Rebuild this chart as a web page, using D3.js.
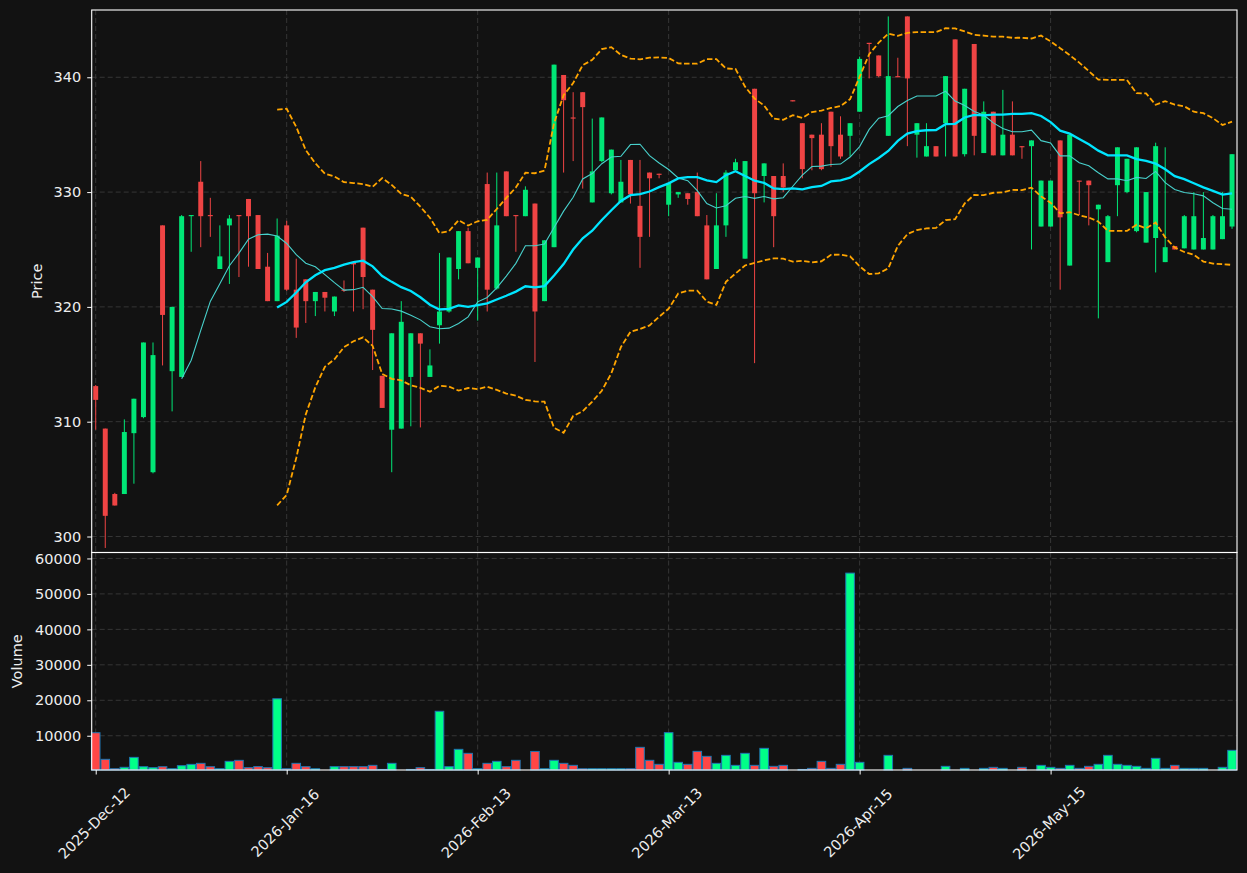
<!DOCTYPE html>
<html>
<head>
<meta charset="utf-8">
<script src="https://d3js.org/d3.v7.min.js"></script>
<style>
body { margin: 0; background: #121212; }
svg { display: block; font-family: "DejaVu Sans", sans-serif; }
</style>
</head>
<body>
<svg width="1247" height="873"></svg>
<script>
// OHLC values, one candle per trading day
const opens = [313.1,309.4,303.7,303.7,309.0,310.4,305.6,327.1,314.4,313.9,
  327.9,330.9,328.0,323.3,327.1,328.0,329.4,328.0,323.5,320.5,
  327.1,321.5,322.4,320.5,321.3,319.6,321.5,323.9,326.9,321.5,
  314.0,309.3,309.4,313.9,317.7,313.9,318.4,319.6,323.3,326.6,
  323.4,330.7,321.6,331.8,328.0,327.9,329.0,320.5,325.2,340.2,
  336.5,338.7,329.1,332.7,329.9,329.1,332.8,328.8,331.7,331.6,
  328.9,329.8,329.9,330.0,327.1,323.3,327.1,331.9,324.2,339.0,
  331.4,331.4,331.4,338.0,336.0,335.0,335.0,337.0,335.0,334.9,
  337.0,343.0,341.9,334.9,340.1,345.3,335.0,333.1,334.0,336.0,
  343.3,333.3,342.9,333.4,337.0,333.2,335.0,334.0,334.0,327.0,
  327.0,334.5,323.6,331.0,331.0,328.5,323.9,330.6,330.0,326.6,
  325.6,326.0,323.9,325.3,325.1,325.0,325.0,325.0,325.9,327.0];
const highs = [313.2,309.4,303.8,310.2,312.0,316.9,316.9,327.1,320.0,328.0,
  328.0,332.7,329.5,327.1,328.0,328.0,329.4,328.0,324.7,327.7,
  327.5,324.2,322.4,321.3,321.3,320.9,322.3,323.9,326.9,321.5,
  314.0,317.7,320.5,317.7,317.7,316.3,324.7,324.3,326.6,326.9,
  324.3,331.7,331.7,331.8,328.0,330.5,329.0,325.8,341.1,340.2,
  338.7,338.7,336.4,336.5,333.7,332.8,332.8,332.8,331.7,331.6,
  330.8,330.0,329.9,331.7,328.0,329.9,331.9,332.9,332.7,339.0,
  332.5,331.4,332.5,338.0,336.0,335.0,336.0,337.0,336.6,336.0,
  341.8,343.0,341.9,345.3,341.7,345.3,336.0,336.0,334.0,340.1,
  343.3,339.0,342.9,337.9,337.0,338.9,337.9,334.0,334.5,331.0,
  331.0,334.5,335.0,331.0,331.0,328.9,328.0,333.9,332.9,333.9,
  330.0,334.3,333.9,325.3,328.0,330.0,330.0,328.0,330.0,333.3];
const lows = [309.3,299.0,302.7,303.7,304.6,310.3,305.5,314.9,310.9,313.9,
  324.8,325.2,326.1,323.3,322.0,322.6,323.5,323.3,320.5,320.5,
  321.4,317.3,318.6,319.2,319.6,319.2,321.3,319.6,319.8,314.5,
  311.2,305.6,309.4,309.6,309.5,313.9,316.8,319.5,322.4,323.8,
  318.8,319.6,321.5,327.9,324.8,327.9,315.2,320.5,325.2,331.7,
  332.7,330.3,329.1,332.6,329.8,329.1,329.0,323.4,326.1,331.2,
  327.9,329.5,328.9,327.9,322.4,323.3,326.1,331.9,324.2,315.1,
  329.1,325.2,330.0,337.9,331.2,331.9,331.9,332.2,332.9,333.1,
  337.0,339.9,340.0,334.9,340.0,334.0,333.0,333.1,333.1,333.1,
  333.1,333.1,333.2,333.4,333.2,333.2,333.2,332.9,325.0,327.0,
  327.0,321.5,323.6,328.0,327.1,319.0,323.9,327.9,329.9,326.5,
  325.6,323.0,323.9,325.0,325.1,325.0,325.0,325.0,325.9,326.8];
const closes = [311.9,301.8,302.7,309.1,312.0,316.9,315.8,319.3,320.0,327.9,
  328.0,327.9,327.9,324.4,327.7,327.9,327.9,323.3,320.5,326.2,
  321.5,318.2,320.5,321.3,320.8,320.9,321.4,323.7,322.6,318.0,
  311.2,317.7,318.7,317.7,316.8,314.9,319.6,324.3,326.6,323.8,
  324.3,321.5,327.1,327.9,327.9,330.2,319.6,325.8,341.1,338.0,
  336.4,337.4,331.8,336.5,333.7,330.9,329.8,326.1,331.2,331.5,
  330.8,330.0,329.4,327.9,322.4,327.1,331.7,332.6,332.7,329.9,
  332.5,327.9,330.4,337.9,332.0,334.7,332.0,334.0,333.1,336.0,
  341.6,342.9,340.1,340.1,340.0,339.9,336.0,334.0,333.1,340.1,
  333.1,339.0,334.9,337.0,333.2,335.0,333.2,333.9,334.5,331.0,
  331.0,327.8,335.0,330.9,330.6,328.9,327.9,333.9,332.9,333.9,
  330.0,334.0,325.2,325.0,327.9,327.9,326.0,327.9,327.9,333.3];
const volumes = [10850,3350,700,1100,3900,1270,990,1270,700,1560,
  1930,2220,1270,700,2780,3060,1000,1300,990,20430,
  700,2220,1280,700,100,1280,1280,1280,1280,1650,
  500,2220,100,500,1000,500,16900,1280,6170,5040,
  700,2220,2780,1280,3070,150,5580,700,3070,2220,
  1650,700,700,700,700,700,700,6730,3070,1940,
  10870,2500,1940,5600,4190,2220,4470,1650,5040,1650,
  6450,1370,1650,50,500,800,2780,800,1940,55860,
  2500,200,200,4470,200,800,150,150,150,1370,
  50,800,200,800,1090,800,200,1090,200,1650,
  1090,800,1650,800,1370,1940,4470,1940,1650,1370,
  800,3630,800,1650,800,800,800,200,1090,5880];

const xTickIdx = [0, 20, 40, 60, 80, 100];
const xTickLabels = ["2025-Dec-12", "2026-Jan-16", "2026-Feb-13", "2026-Mar-13", "2026-Apr-15", "2026-May-15"];
const priceTicks = [300, 310, 320, 330, 340];
const volTicks = [10000, 20000, 30000, 40000, 50000, 60000];

// moving averages and bollinger bands derived from the closes
function rolling(arr, n, fn) {
  return arr.map((v, i) => i < n - 1 ? null : fn(arr.slice(i - n + 1, i + 1)));
}
const ma10 = rolling(closes, 10, d3.mean);
const ma20 = rolling(closes, 20, d3.mean);
const sd20 = rolling(closes, 20, d3.deviation);
const upper = ma20.map((m, i) => m == null ? null : m + 2 * sd20[i]);
const lower = ma20.map((m, i) => m == null ? null : m - 2 * sd20[i]);

const svg = d3.select("svg");
const fg = "#eeeeee", fs = "14.5px";
const upC = "#00e676", downC = "#ef4444";
const upV = "#00ff88", downV = "#ff4646";

const left = 91.7, right = 1237;
const pTop = 10, pBot = 552.5, vTop = 552.5, vBot = 770;

const x = d3.scaleLinear().domain([-0.42, 119.52]).range([left, right]);
const y = d3.scaleLinear().domain([298.65, 345.86]).range([552, pTop]);
const yv = d3.scaleLinear().domain([340, 61450]).range([vBot, 553.3]).clamp(true);
const step = x(1) - x(0);

svg.append("rect").attr("width", 1247).attr("height", 873).attr("fill", "#121212");

// grid
const grid = svg.append("g").attr("stroke", "#3a3a3a").attr("stroke-width", 0.9).attr("stroke-dasharray", "5,3");
xTickIdx.forEach(i => {
  grid.append("line").attr("x1", x(i)).attr("x2", x(i)).attr("y1", pTop).attr("y2", pBot);
  grid.append("line").attr("x1", x(i)).attr("x2", x(i)).attr("y1", vTop).attr("y2", vBot);
});
priceTicks.forEach(t => grid.append("line").attr("x1", left).attr("x2", right).attr("y1", y(t)).attr("y2", y(t)));
volTicks.forEach(t => grid.append("line").attr("x1", left).attr("x2", right).attr("y1", yv(t)).attr("y2", yv(t)));

// candles
const idx = d3.range(closes.length);
const cg = svg.append("g");
cg.selectAll("line.wick").data(idx).enter().append("line")
  .attr("x1", i => x(i)).attr("x2", i => x(i))
  .attr("y1", i => y(highs[i])).attr("y2", i => y(lows[i]))
  .attr("stroke", i => closes[i] >= opens[i] ? upC : downC).attr("stroke-width", 1);
cg.selectAll("rect").data(idx).enter().append("rect")
  .attr("x", i => x(i) - step * 0.26).attr("width", step * 0.52)
  .attr("y", i => y(Math.max(opens[i], closes[i])))
  .attr("height", i => Math.max(1, Math.abs(y(opens[i]) - y(closes[i]))))
  .attr("fill", i => closes[i] >= opens[i] ? upC : downC);

// indicator lines
const line = d3.line().defined(d => d != null).x((d, i) => x(i)).y(d => y(d));
svg.append("path").datum(upper).attr("d", line).attr("fill", "none")
  .attr("stroke", "#ffa500").attr("stroke-width", 1.8).attr("stroke-dasharray", "5.5,2.5");
svg.append("path").datum(lower).attr("d", line).attr("fill", "none")
  .attr("stroke", "#ffa500").attr("stroke-width", 1.8).attr("stroke-dasharray", "5.5,2.5");
svg.append("path").datum(ma10).attr("d", line).attr("fill", "none")
  .attr("stroke", "#48d1cc").attr("stroke-width", 1.1);
svg.append("path").datum(ma20).attr("d", line).attr("fill", "none")
  .attr("stroke", "#00e5ff").attr("stroke-width", 2.3);

// volume bars
svg.append("g").selectAll("rect").data(idx).enter().append("rect")
  .attr("x", i => x(i) - step * 0.45).attr("width", step * 0.9)
  .attr("y", i => yv(volumes[i])).attr("height", i => vBot - yv(volumes[i]))
  .attr("fill", i => closes[i] >= opens[i] ? upV : downV)
  .attr("stroke", "#1f77b4").attr("stroke-width", 1);

// frames
[[pTop, pBot], [vTop, vBot]].forEach(([t, b]) => {
  svg.append("rect").attr("x", left).attr("y", t).attr("width", right - left).attr("height", b - t)
    .attr("fill", "none").attr("stroke", "#ffffff").attr("stroke-width", 1.1);
});

// axes
function styleAxis(g) {
  g.select(".domain").remove();
  g.selectAll("line").attr("stroke", "#ffffff");
  g.selectAll("text").attr("fill", fg).attr("font-size", fs).attr("font-family", "DejaVu Sans");
}
svg.append("g").attr("transform", `translate(${left},0)`)
  .call(d3.axisLeft(y).tickValues(priceTicks).tickSize(4.5).tickPadding(6)).call(styleAxis);
svg.append("g").attr("transform", `translate(${left},0)`)
  .call(d3.axisLeft(yv).tickValues(volTicks).tickSize(4.5).tickPadding(6).tickFormat(d3.format("d"))).call(styleAxis);

const gx = svg.append("g").attr("transform", `translate(0,${vBot})`)
  .call(d3.axisBottom(x).tickValues(xTickIdx).tickSize(4.5).tickFormat(d => xTickLabels[xTickIdx.indexOf(d)]))
  .call(styleAxis);
gx.selectAll("text").attr("y", 0).attr("dy", "0.35em").attr("text-anchor", "middle")
  .attr("transform", "translate(-2,53) rotate(-45)");

svg.append("text").attr("transform", `translate(37,${(pTop + pBot) / 2}) rotate(-90)`)
  .attr("text-anchor", "middle").attr("dy", "0.35em").attr("fill", fg).attr("font-size", fs).text("Price");
svg.append("text").attr("transform", `translate(17,${(vTop + vBot) / 2}) rotate(-90)`)
  .attr("text-anchor", "middle").attr("dy", "0.35em").attr("fill", fg).attr("font-size", fs).text("Volume");
</script>
</body>
</html>
